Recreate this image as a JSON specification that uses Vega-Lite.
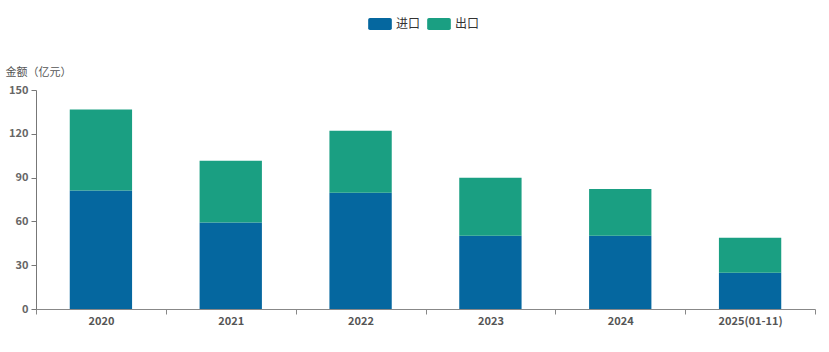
{
  "$schema": "https://vega.github.io/schema/vega-lite/v6.json",
  "width": 779,
  "height": 219,
  "autosize": "none",
  "padding": {"left": 36, "right": 14, "top": 90, "bottom": 43},
  "background": "#ffffff",
  "config": {"view": {"stroke": null}, "font": "Noto Sans CJK SC"},
  "data": {
    "values": [
      {"year": "2020", "type": "进口", "value": 81.2},
      {"year": "2020", "type": "出口", "value": 55.5},
      {"year": "2021", "type": "进口", "value": 59.3},
      {"year": "2021", "type": "出口", "value": 42.3},
      {"year": "2022", "type": "进口", "value": 79.7},
      {"year": "2022", "type": "出口", "value": 42.4},
      {"year": "2023", "type": "进口", "value": 50.2},
      {"year": "2023", "type": "出口", "value": 39.7},
      {"year": "2024", "type": "进口", "value": 50.2},
      {"year": "2024", "type": "出口", "value": 32.0},
      {"year": "2025(01-11)", "type": "进口", "value": 24.9},
      {"year": "2025(01-11)", "type": "出口", "value": 23.9}
    ]
  },
  "mark": {"type": "bar", "width": {"band": 0.48}},
  "encoding": {
    "x": {
      "field": "year",
      "type": "nominal",
      "sort": null,
      "scale": {"paddingInner": 0, "paddingOuter": 0},
      "axis": {
        "title": null,
        "labelAngle": 0,
        "tickBand": "extent",
        "domainColor": "#888888",
        "tickColor": "#888888",
        "tickSize": 5,
        "labelColor": "#555555",
        "labelFontWeight": "bold",
        "labelFontSize": 11,
        "labelPadding": 1
      }
    },
    "y": {
      "field": "value",
      "type": "quantitative",
      "stack": "zero",
      "scale": {"domain": [0, 150], "nice": false},
      "axis": {
        "values": [0, 30, 60, 90, 120, 150],
        "grid": false,
        "title": "金额（亿元）",
        "titleAngle": 0,
        "titleAlign": "left",
        "titleBaseline": "middle",
        "titleX": -31,
        "titleY": -18,
        "titleFontSize": 11,
        "titleFontWeight": "normal",
        "titleColor": "#555555",
        "domainColor": "#777777",
        "tickColor": "#777777",
        "tickSize": 5,
        "labelColor": "#666666",
        "labelFontWeight": "bold",
        "labelFontSize": 11,
        "labelPadding": 3
      }
    },
    "color": {
      "field": "type",
      "type": "nominal",
      "scale": {"domain": ["进口", "出口"], "range": ["#05679f", "#1a9f82"]},
      "legend": {
        "title": null,
        "orient": "none",
        "direction": "horizontal",
        "legendX": 332,
        "legendY": -78,
        "symbolType": "M-0.85,-0.5H0.85Q1,-0.5 1,-0.35V0.35Q1,0.5 0.85,0.5H-0.85Q-1,0.5 -1,0.35V-0.35Q-1,-0.5 -0.85,-0.5Z",
        "symbolSize": 560,
        "symbolStrokeWidth": 0,
        "symbolOpacity": 1,
        "labelFontSize": 12,
        "labelColor": "#333333",
        "columnPadding": 6,
        "labelOffset": 4
      }
    },
    "order": {"field": "type", "sort": "descending"}
  }
}
